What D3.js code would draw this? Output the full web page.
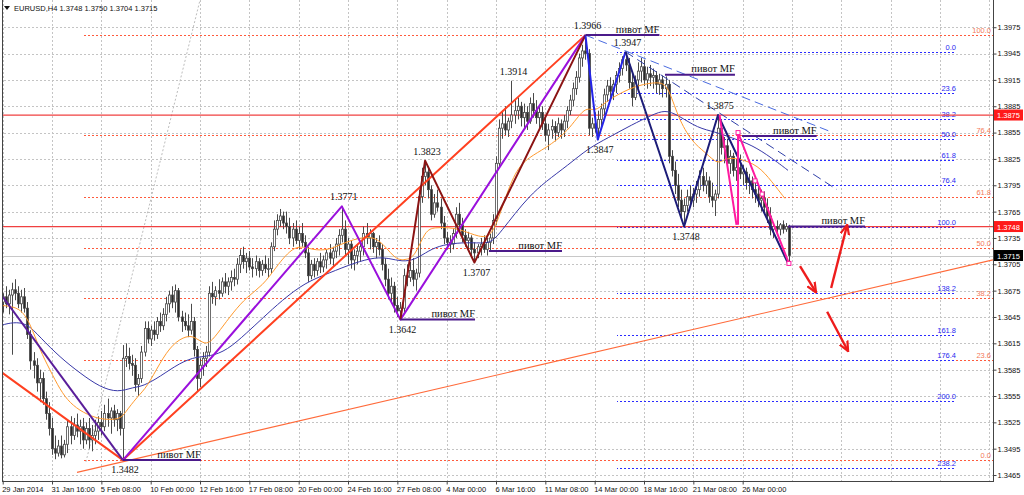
<!DOCTYPE html>
<html>
<head>
<meta charset="utf-8">
<script src="https://cdn.jsdelivr.net/npm/d3@7"></script>
<style>
html,body{margin:0;padding:0;background:#fff;}
svg{display:block;}
</style>
</head>
<body>
<svg id="chart" width="1024" height="495"></svg>
<script>
// ---------------- DATA ----------------
const symbol = "EURUSD,H4";
const headerValues = [1.3748, 1.3750, 1.3704, 1.3715];
const timeLabels = ["29 Jan 2014","31 Jan 16:00","5 Feb 08:00","10 Feb 00:00","12 Feb 16:00","17 Feb 08:00","20 Feb 00:00","24 Feb 16:00","27 Feb 08:00","4 Mar 00:00","6 Mar 16:00","11 Mar 08:00","14 Mar 00:00","18 Mar 16:00","21 Mar 08:00","26 Mar 00:00"];
const timeLabelBars = [0,16,32,48,64,80,96,112,128,144,160,176,192,208,224,240];
const gridBars = [0,16,32,48,64,80,96,112,128,144,160,176,192,208,224,240,256,272,288,304,320];
const priceTicks = [1.3465,1.3495,1.3525,1.3555,1.3585,1.3615,1.3645,1.3675,1.3705,1.3735,1.3765,1.3795,1.3825,1.3855,1.3885,1.3915,1.3945,1.3975];

const firstOpen = 1.3662;
const closes = [
1.3668,1.3660,1.3670,1.3676,1.3672,1.3660,1.3668,1.3655,1.3625,1.3595,
1.3590,1.3570,1.3575,1.3552,1.3535,1.3518,1.3495,1.3490,1.3498,1.3488,
1.3500,1.3520,1.3510,1.3522,1.3515,1.3520,1.3505,1.3518,1.3505,1.3510,
1.3515,1.3525,1.3520,1.3535,1.3530,1.3538,1.3528,1.3535,1.3518,1.3598,
1.3600,1.3592,1.3590,1.3568,1.3575,1.3605,1.3632,1.3620,1.3630,1.3625,
1.3640,1.3635,1.3648,1.3660,1.3670,1.3662,1.3675,1.3645,1.3640,1.3635,
1.3630,1.3640,1.3608,1.3575,1.3590,1.3598,1.3605,1.3672,1.3668,1.3675,
1.3672,1.3685,1.3680,1.3685,1.3690,1.3688,1.3705,1.3715,1.3708,1.3712,
1.3702,1.3700,1.3708,1.3698,1.3705,1.3700,1.3700,1.3725,1.3745,1.3755,
1.3760,1.3752,1.3748,1.3735,1.3745,1.3732,1.3740,1.3730,1.3718,1.3692,
1.3705,1.3698,1.3708,1.3702,1.3710,1.3718,1.3712,1.3720,1.3728,1.3738,
1.3745,1.3722,1.3728,1.3710,1.3715,1.3720,1.3725,1.3740,1.3735,1.3740,
1.3725,1.3730,1.3722,1.3705,1.3688,1.3672,1.3680,1.3658,1.3652,1.3655,
1.3692,1.3690,1.3698,1.3688,1.3695,1.3782,1.3805,1.3810,1.3790,1.3762,
1.3775,1.3770,1.3752,1.3735,1.3730,1.3728,1.3740,1.3762,1.3750,1.3738,
1.3732,1.3735,1.3722,1.3718,1.3725,1.3728,1.3722,1.3730,1.3735,1.3755,
1.3820,1.3860,1.3865,1.3858,1.3868,1.3875,1.3880,1.3885,1.3872,1.3878,
1.3868,1.3888,1.3880,1.3872,1.3878,1.3865,1.3852,1.3858,1.3862,1.3855,
1.3865,1.3858,1.3868,1.3880,1.3892,1.3905,1.3918,1.3940,1.3948,1.3945,
1.3860,1.3865,1.3860,1.3870,1.3882,1.3898,1.3908,1.3902,1.3910,1.3920,
1.3928,1.3938,1.3932,1.3912,1.3895,1.3915,1.3925,1.3930,1.3915,1.3922,
1.3918,1.3920,1.3910,1.3915,1.3905,1.3910,1.3828,1.3812,1.3795,1.3778,
1.3765,1.3772,1.3782,1.3778,1.3785,1.3790,1.3805,1.3795,1.3800,1.3782,
1.3778,1.3785,1.3860,1.3838,1.3840,1.3820,1.3828,1.3812,1.3815,1.3808,
1.3810,1.3798,1.3800,1.3790,1.3785,1.3778,1.3780,1.3770,1.3760,1.3745,
1.3748,1.3745,1.3750,1.3745,1.3748,1.3715];
const highs = [
1.3672,1.3680,1.3676,1.3684,1.3688,1.3680,1.3676,1.3678,1.3662,1.3630,
1.3605,1.3598,1.3585,1.3582,1.3560,1.3548,1.3530,1.3510,1.3505,1.3510,
1.3505,1.3528,1.3532,1.3530,1.3535,1.3528,1.3530,1.3525,1.3530,1.3522,
1.3528,1.3532,1.3538,1.3545,1.3552,1.3542,1.3545,1.3540,1.3538,1.3613,
1.3615,1.3610,1.3602,1.3598,1.3580,1.3612,1.3640,1.3640,1.3635,1.3640,
1.3645,1.3650,1.3655,1.3668,1.3675,1.3680,1.3682,1.3678,1.3652,1.3650,
1.3648,1.3660,1.3645,1.3612,1.3598,1.3605,1.3612,1.3680,1.3685,1.3680,
1.3688,1.3690,1.3695,1.3690,1.3698,1.3700,1.3712,1.3722,1.3725,1.3718,
1.3720,1.3712,1.3715,1.3712,1.3710,1.3715,1.3712,1.3730,1.3755,1.3762,
1.3768,1.3765,1.3765,1.3758,1.3752,1.3755,1.3748,1.3752,1.3738,1.3725,
1.3710,1.3712,1.3712,1.3718,1.3715,1.3722,1.3728,1.3725,1.3735,1.3745,
1.3771,1.3755,1.3735,1.3732,1.3722,1.3728,1.3730,1.3748,1.3752,1.3745,
1.3742,1.3735,1.3738,1.3728,1.3712,1.3700,1.3690,1.3685,1.3668,1.3662,
1.3700,1.3705,1.3708,1.3712,1.3700,1.3790,1.3815,1.3823,1.3815,1.3795,
1.3785,1.3790,1.3780,1.3760,1.3742,1.3738,1.3745,1.3770,1.3775,1.3758,
1.3745,1.3742,1.3738,1.3730,1.3728,1.3735,1.3738,1.3735,1.3740,1.3762,
1.3828,1.3870,1.3880,1.3885,1.3872,1.3914,1.3892,1.3895,1.3890,1.3888,
1.3885,1.3895,1.3900,1.3892,1.3885,1.3885,1.3872,1.3865,1.3870,1.3868,
1.3872,1.3870,1.3875,1.3885,1.3898,1.3912,1.3925,1.3945,1.3955,1.3966,
1.3950,1.3872,1.3878,1.3880,1.3888,1.3905,1.3915,1.3918,1.3915,1.3925,
1.3935,1.3942,1.3947,1.3940,1.3925,1.3920,1.3935,1.3940,1.3938,1.3930,
1.3932,1.3928,1.3925,1.3922,1.3920,1.3919,1.3915,1.3835,1.3822,1.3808,
1.3790,1.3780,1.3790,1.3795,1.3792,1.3800,1.3812,1.3815,1.3810,1.3805,
1.3798,1.3790,1.3875,1.3868,1.3850,1.3848,1.3835,1.3832,1.3825,1.3830,
1.3818,1.3815,1.3808,1.3805,1.3798,1.3795,1.3790,1.3788,1.3780,1.3770,
1.3752,1.3755,1.3752,1.3755,1.3752,1.3750];
const lows = [
1.3650,1.3655,1.3648,1.3602,1.3664,1.3655,1.3650,1.3650,1.3620,1.3585,
1.3575,1.3560,1.3548,1.3545,1.3528,1.3510,1.3488,1.3483,1.3486,1.3484,
1.3485,1.3490,1.3500,1.3505,1.3508,1.3500,1.3495,1.3500,1.3495,1.3492,
1.3500,1.3505,1.3510,1.3515,1.3520,1.3512,1.3520,1.3515,1.3510,1.3482,
1.3588,1.3585,1.3578,1.3560,1.3555,1.3570,1.3600,1.3615,1.3612,1.3618,
1.3620,1.3628,1.3630,1.3640,1.3650,1.3655,1.3650,1.3640,1.3628,1.3630,
1.3622,1.3625,1.3600,1.3560,1.3565,1.3578,1.3588,1.3600,1.3660,1.3658,
1.3665,1.3668,1.3672,1.3670,1.3675,1.3680,1.3682,1.3695,1.3700,1.3695,
1.3698,1.3690,1.3692,1.3690,1.3692,1.3695,1.3690,1.3695,1.3720,1.3738,
1.3748,1.3745,1.3740,1.3728,1.3725,1.3728,1.3722,1.3725,1.3712,1.3685,
1.3688,1.3690,1.3692,1.3695,1.3696,1.3700,1.3705,1.3702,1.3712,1.3715,
1.3730,1.3715,1.3705,1.3700,1.3698,1.3705,1.3708,1.3715,1.3728,1.3722,
1.3718,1.3712,1.3715,1.3698,1.3680,1.3665,1.3660,1.3650,1.3645,1.3642,
1.3650,1.3680,1.3685,1.3680,1.3675,1.3690,1.3775,1.3795,1.3780,1.3755,
1.3758,1.3765,1.3745,1.3728,1.3722,1.3718,1.3722,1.3735,1.3745,1.3730,
1.3725,1.3720,1.3715,1.3707,1.3712,1.3715,1.3718,1.3715,1.3720,1.3728,
1.3750,1.3815,1.3848,1.3852,1.3850,1.3860,1.3865,1.3870,1.3862,1.3860,
1.3858,1.3865,1.3872,1.3865,1.3860,1.3858,1.3845,1.3835,1.3848,1.3845,
1.3850,1.3848,1.3850,1.3860,1.3875,1.3885,1.3898,1.3912,1.3930,1.3938,
1.3852,1.3850,1.3855,1.3847,1.3860,1.3875,1.3890,1.3895,1.3892,1.3900,
1.3912,1.3920,1.3925,1.3905,1.3885,1.3892,1.3905,1.3912,1.3908,1.3905,
1.3908,1.3905,1.3900,1.3898,1.3895,1.3895,1.3820,1.3805,1.3785,1.3770,
1.3755,1.3748,1.3765,1.3772,1.3770,1.3775,1.3782,1.3788,1.3785,1.3775,
1.3770,1.3760,1.3780,1.3830,1.3820,1.3812,1.3808,1.3805,1.3800,1.3802,
1.3795,1.3790,1.3785,1.3780,1.3775,1.3770,1.3765,1.3762,1.3752,1.3738,
1.3735,1.3740,1.3738,1.3740,1.3742,1.3704];

// moving averages: [bar, price]
const maFast = [[0,1.3658],[5.6,1.3656],[8.9,1.3638],[12.1,1.3607],[15.3,1.3585],[18.6,1.3562],[21.8,1.3547],[26,1.3536],[31.6,1.3528],[38,1.3528],[39.7,1.3536],[43.6,1.3554],[46.8,1.3565],[51,1.3593],[55.2,1.3615],[59.8,1.3624],[62.4,1.3622],[65,1.3615],[67.2,1.3615],[70.5,1.3630],[74.7,1.3650],[79.2,1.3668],[84.4,1.3681],[88.3,1.3700],[94.8,1.3729],[100.4,1.3721],[105.8,1.3721],[111,1.3730],[116.5,1.3736],[122,1.3736],[127.2,1.3710],[130.5,1.3710],[133.7,1.3713],[137,1.3744],[140.2,1.3747],[144.8,1.3747],[149,1.3744],[154.5,1.3736],[158.7,1.3736],[162,1.3770],[166.2,1.3812],[170.7,1.3827],[176,1.3837],[183.4,1.3856],[188.9,1.3886],[192.1,1.3878],[195.4,1.3890],[200.9,1.3901],[206.1,1.3909],[212.6,1.3913],[215.8,1.3909],[219,1.3872],[223.6,1.3844],[227.8,1.3833],[232,1.3818],[234.3,1.3826],[238.5,1.3826],[245,1.3818],[249.5,1.3799],[253.7,1.3780]];
const maSlow = [[0,1.3636],[3.3,1.3639],[7.9,1.3638],[12.1,1.3622],[18.6,1.3599],[25.1,1.3581],[31.6,1.3565],[37.4,1.3559],[42.3,1.3565],[45.5,1.3566],[51,1.3577],[57.5,1.3593],[63,1.3600],[67.2,1.3600],[72.8,1.3607],[79.2,1.3627],[84.4,1.3644],[90.6,1.3664],[98,1.3684],[105.8,1.3695],[114.3,1.3707],[120.8,1.3713],[125.3,1.3712],[129.5,1.3708],[133.7,1.3710],[138.3,1.3721],[142.5,1.3727],[149,1.3730],[155.5,1.3729],[158.7,1.3730],[162,1.3744],[166.2,1.3763],[170.7,1.3782],[176,1.3799],[183.4,1.3818],[189.9,1.3837],[196.3,1.3849],[204.1,1.3864],[210.6,1.3875],[214.8,1.3881],[219,1.3875],[225.5,1.3860],[231,1.3856],[236.5,1.3849],[243,1.3841],[249.5,1.3826],[254.7,1.3812]];

// zigzag / wave lines [bar, price]
const zzRed = [[0,1.3581],[39,1.3482],[189,1.3966]];
const zzIndigo = [[0,1.3668],[39,1.3482]];
const zzViolet = [[39,1.3482],[110,1.3771],[129,1.3642],[189,1.3966]];
const zzMaroon = [[129,1.3642],[137,1.3823],[153,1.3707],[189,1.3966]];
const zzBlue = [[189,1.3966],[193,1.3847],[202,1.3947]];
const zzNavy = [[202,1.3947],[221,1.3748],[232,1.3875],[255,1.3704]];
const pinkLeg = [[232.5,1.3875],[238,1.3750]];
const pinkWave = [[238.5,1.3750],[238.5,1.3855],[255,1.3706]];
const pinkMarks = [[238.5,1.3855],[244,1.3800],[246.3,1.3785],[255,1.3706]];

// pivot labels
const pivotBars   = [39,110,129,137,153,165,189,193,202,221,232];
const pivotPrices = [1.3482,1.3771,1.3642,1.3823,1.3707,1.3914,1.3966,1.3847,1.3947,1.3748,1.3875];
const pivotIsHigh = [false,true,false,true,false,true,true,false,true,false,true];

// "пивот MF" horizontal segments
const mfStart = [39,129,157.7,189,214.8,239.8,254.7];
const mfEnd   = [64.3,153.2,181.4,213,237.5,264,279.7];
const mfPrice = [1.3482,1.3642,1.3720,1.3966,1.3921,1.3851,1.3748];
const mfText = "пивот MF";

// Fibonacci
const fibOrangeLow = 1.3482, fibOrangeHigh = 1.3966, fibOrangeStartBar = 25.7;
const fibOrangeLevels = [0,23.6,38.2,50,61.8,76.4,100];
const fibBlueFrom = 1.3947, fibBlueTo = 1.3748, fibBlueBars = [199.3,309.2];
const fibBlueLevels = [0,23.6,38.2,50,61.8,76.4,100,138.2,161.8,176.4,200,238.2];
const fibDiag = [[27,1.3480],[64,1.4006]];

// other lines
const redLevels = [1.3875, 1.3748];
const bidPrice = 1.3715;
const longTrend = [[24.1,1.3468],[321.2,1.3710]];
const trendA = [[189,1.3966],[269.3,1.3855]];
const trendB = [[202,1.3947],[270.6,1.3790]];
const arrows = [
  [[258.6,1.3703],[263.8,1.3673]],
  [[268.7,1.3678],[273.9,1.3750]],
  [[267.4,1.3651],[274.2,1.3606]]
];

// ---------------- CHART ----------------
const svg = d3.select("#chart");
const L = 2, R = 993, T = 0, B = 481;
const x = d3.scaleLinear().domain([0,321]).range([2.7, 992.4]);
const y = d3.scaleLinear().domain([1.34582, 1.40060]).range([B, 0]);
const fmt = d3.format(".4f");
const sans = "'Liberation Sans', Arial, sans-serif";
const serif = "'Liberation Serif', 'Times New Roman', serif";

const defs = svg.append("defs");
defs.append("clipPath").attr("id","clip").append("rect")
  .attr("x",L).attr("y",T).attr("width",R-L).attr("height",B-T);
defs.append("marker").attr("id","arr").attr("viewBox","0 0 10 10")
  .attr("refX",9).attr("refY",5).attr("markerWidth",11).attr("markerHeight",11)
  .attr("markerUnits","userSpaceOnUse").attr("orient","auto")
  .append("path").attr("d","M0,1 L9,5 L0,9").attr("fill","none")
  .attr("stroke","#ee1c1c").attr("stroke-width",2);
// dotted patterns (horizontal and vertical)
const mkPat = (id, color, vertical) => {
  const p = defs.append("pattern").attr("id",id).attr("patternUnits","userSpaceOnUse")
    .attr("width", vertical ? 1 : 4).attr("height", vertical ? 4 : 1);
  p.append("rect").attr("width", vertical ? 1 : 2).attr("height", vertical ? 2 : 1).attr("fill",color);
};
mkPat("dotGridH","#c4c4c4",false);
mkPat("dotGridV","#c4c4c4",true);
mkPat("dotOrange","#ff5a3c",false);
mkPat("dotBlue","#2b2bff",false);

svg.append("rect").attr("width",1024).attr("height",495).attr("fill","#fff");

const g = svg.append("g").attr("clip-path","url(#clip)");
const line = d3.line().x(d=>x(d[0])).y(d=>y(d[1]));
const smooth = d3.line().x(d=>x(d[0])).y(d=>y(d[1])).curve(d3.curveBasis);
const snap = v => Math.round(v) + 0.5;

// grid (dotted)
g.selectAll("rect.vg").data(gridBars).join("rect").attr("class","vg")
  .attr("x",d=>Math.round(x(d))).attr("y",T).attr("width",1).attr("height",B-T)
  .attr("fill","url(#dotGridV)");
g.selectAll("rect.hg").data(priceTicks).join("rect").attr("class","hg")
  .attr("x",L).attr("y",d=>Math.round(y(d))).attr("width",R-L).attr("height",1)
  .attr("fill","url(#dotGridH)");

// fib diagonal
g.append("path").attr("d",line(fibDiag)).style("fill","none")
  .style("stroke","#bdbdbd").style("stroke-dasharray","2,2");

// orange fib
const fibOP = l => fibOrangeLow + (fibOrangeHigh-fibOrangeLow)*l/100;
g.selectAll("rect.fo").data(fibOrangeLevels).join("rect").attr("class","fo")
  .attr("x",Math.round(x(fibOrangeStartBar))).attr("width",R-Math.round(x(fibOrangeStartBar)))
  .attr("y",d=>Math.round(y(fibOP(d)))).attr("height",1)
  .attr("fill","url(#dotOrange)");
g.selectAll("text.fo").data(fibOrangeLevels).join("text").attr("class","fo")
  .attr("x",R-2).attr("y",d=>y(fibOP(d))-2).attr("text-anchor","end")
  .attr("font-family",sans).attr("font-size",7.5).style("fill","#f47a5a")
  .text(d=>d.toFixed(1));

// blue fib
const fibBP = l => fibBlueFrom - (fibBlueFrom-fibBlueTo)*l/100;
const bx0 = Math.round(x(fibBlueBars[0])), bx1 = Math.round(x(fibBlueBars[1]));
g.selectAll("rect.fb").data(fibBlueLevels).join("rect").attr("class","fb")
  .attr("x",bx0).attr("width",bx1-bx0)
  .attr("y",d=>Math.round(y(fibBP(d)))).attr("height",1)
  .attr("fill","url(#dotBlue)");
g.selectAll("text.fb").data(fibBlueLevels).join("text").attr("class","fb")
  .attr("x",bx1).attr("y",d=>y(fibBP(d))-2).attr("text-anchor","end")
  .attr("font-family",sans).attr("font-size",7.5).style("fill","#2a2af0")
  .text(d=>d.toFixed(1));

// bid line
g.append("rect").attr("x",L).attr("width",R-L).attr("y",Math.round(y(bidPrice))).attr("height",1)
  .attr("fill","#c8c8c8");

// red horizontal levels
g.selectAll("line.rl").data(redLevels).join("line").attr("class","rl")
  .attr("x1",L).attr("x2",R).attr("y1",d=>y(d)).attr("y2",d=>y(d))
  .style("stroke","#f04040").style("stroke-width",1.3);

// candles
const bars = closes.map((c,i)=>({i, o: i===0 ? firstOpen : closes[i-1], h: highs[i], l: lows[i], c}));
const cg = g.append("g");
cg.selectAll("line.wick").data(bars).join("line").attr("class","wick")
  .attr("x1",d=>snap(x(d.i))).attr("x2",d=>snap(x(d.i)))
  .attr("y1",d=>y(d.h)).attr("y2",d=>y(d.l))
  .style("stroke","#4a4a4a").style("stroke-width",1);
cg.selectAll("rect.body").data(bars).join("rect").attr("class","body")
  .attr("x",d=>Math.round(x(d.i))-0.5).attr("width",2)
  .attr("y",d=>y(Math.max(d.o,d.c)))
  .attr("height",d=>Math.max(0.8, Math.abs(y(d.o)-y(d.c))))
  .style("fill",d=>d.c>=d.o ? "#ffffff" : "#2a2a2a")
  .style("stroke","#4a4a4a").style("stroke-width",0.8);

// moving averages
g.append("path").attr("d",smooth(maSlow)).style("fill","none").style("stroke","#3838a8").style("stroke-width",1);
g.append("path").attr("d",smooth(maFast)).style("fill","none").style("stroke","#ff9a2e").style("stroke-width",1);

// long thin trendline
g.append("path").attr("d",line(longTrend)).style("fill","none").style("stroke","#ff6a3a").style("stroke-width",1.1);

// dashed blue trendlines
g.append("path").attr("d",line(trendA)).style("fill","none").style("stroke","#4a6be0").style("stroke-width",1).style("stroke-dasharray","9,5");
g.append("path").attr("d",line(trendB)).style("fill","none").style("stroke","#2f3fa8").style("stroke-width",1).style("stroke-dasharray","9,5");

// zigzags
const zz = (pts,color,w) => g.append("path").attr("d",line(pts)).style("fill","none")
  .style("stroke",color).style("stroke-width",w).style("stroke-linejoin","round");
zz(zzRed,"#ff4020",2);
zz(zzIndigo,"#5a1e9a",2);
zz(zzViolet,"#9a10dc",2);
zz(zzMaroon,"#8b1414",2);
zz(zzBlue,"#2424e8",2);
zz(zzNavy,"#1c1c78",2);
zz(pinkLeg,"#ff1aa0",2);
zz(pinkWave,"#ff1aa0",2);
g.selectAll("rect.pm").data(pinkMarks).join("rect").attr("class","pm")
  .attr("x",d=>x(d[0])-2).attr("y",d=>y(d[1])-2).attr("width",4).attr("height",4)
  .style("fill","#fff").style("stroke","#ff1aa0").style("stroke-width",1);

// пивот MF segments
g.selectAll("line.mf").data(mfPrice).join("line").attr("class","mf")
  .attr("x1",(d,i)=>x(mfStart[i])).attr("x2",(d,i)=>x(mfEnd[i]))
  .attr("y1",d=>y(d)).attr("y2",d=>y(d))
  .style("stroke","#4b1a8a").style("stroke-width",2);
g.selectAll("text.mf").data(mfPrice).join("text").attr("class","mf")
  .attr("x",(d,i)=>x(mfEnd[i])).attr("y",d=>y(d)-2.5).attr("text-anchor","end")
  .attr("font-family",serif).attr("font-size",10.5).style("fill","#111")
  .text(mfText);

// pivot price labels
g.selectAll("text.pv").data(pivotPrices).join("text").attr("class","pv")
  .attr("x",(d,i)=>x(pivotBars[i])+2)
  .attr("y",(d,i)=>pivotIsHigh[i] ? y(d)-6 : y(d)+13)
  .attr("text-anchor","middle")
  .attr("font-family",serif).attr("font-size",10).style("fill","#111")
  .text(d=>fmt(d));

// red arrows
g.selectAll("path.ar").data(arrows).join("path").attr("class","ar")
  .attr("d",d=>line(d)).style("fill","none").style("stroke","#ee1c1c")
  .style("stroke-width",2.4).attr("marker-end","url(#arr)");

// frame
svg.append("line").attr("x1",L+0.5).attr("x2",L+0.5).attr("y1",0).attr("y2",B).style("stroke","#444");
svg.append("line").attr("x1",R+0.5).attr("x2",R+0.5).attr("y1",0).attr("y2",B+0.5).style("stroke","#444");
svg.append("line").attr("x1",L).attr("x2",R+1).attr("y1",B+0.5).attr("y2",B+0.5).style("stroke","#444");

// price axis
const yAxis = d3.axisRight(y).tickValues(priceTicks).tickFormat(fmt).tickSize(3).tickPadding(1);
svg.append("g").attr("transform",`translate(${R+0.5},0)`).call(yAxis)
  .call(a=>a.select(".domain").remove())
  .call(a=>a.selectAll("line").style("stroke","#444"))
  .call(a=>a.selectAll("text").attr("font-family",sans).attr("font-size",7.5).style("fill","#111"));

// time axis
const xAxis = d3.axisBottom(x).tickValues(timeLabelBars).tickFormat((d,i)=>timeLabels[i]).tickSize(3).tickPadding(2);
svg.append("g").attr("transform",`translate(0,${B+0.5})`).call(xAxis)
  .call(a=>a.select(".domain").remove())
  .call(a=>a.selectAll("line").style("stroke","#444"))
  .call(a=>a.selectAll("text").attr("text-anchor","start").attr("dx",-1)
    .attr("font-family",sans).attr("font-size",7.5).style("fill","#111"));

// price tags on axis
const tags = [[redLevels[0],"#ff1a1a"],[redLevels[1],"#ff1a1a"],[bidPrice,"#000"]];
const tg = svg.append("g");
tags.forEach(([p,col])=>{
  tg.append("rect").attr("x",R+1).attr("y",y(p)-5.5).attr("width",29).attr("height",11).style("fill",col);
  tg.append("text").attr("x",R+4).attr("y",y(p)+3).attr("font-family",sans).attr("font-size",7.5)
    .style("fill","#fff").text(fmt(p));
});

// header
svg.append("path").attr("d","M4,6 L10,6 L7,10 Z").style("fill","#111");
svg.append("text").attr("x",14).attr("y",11).attr("font-family",sans).attr("font-size",7.5)
  .style("fill","#111").text(symbol + "  " + headerValues.map(fmt).join(" "));
</script>
</body>
</html>
